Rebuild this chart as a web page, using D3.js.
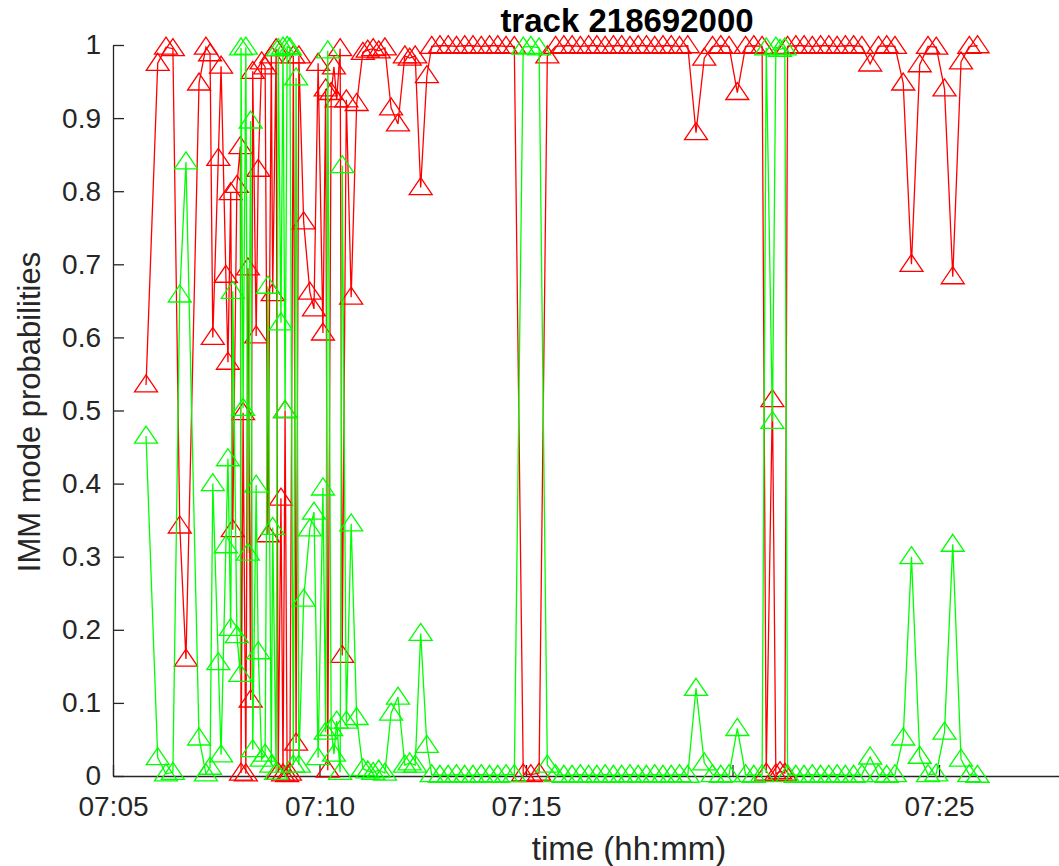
<!DOCTYPE html>
<html>
<head>
<meta charset="utf-8">
<script src="https://cdn.jsdelivr.net/npm/d3@7"></script>
<style>
  body { margin: 0; background: #fff; }
  text { font-family: "Liberation Sans", Arial, Helvetica, sans-serif; }
</style>
</head>
<body>
<div id="chart"></div>
<script>
// sample times of track 218692000 and the two IMM mode probabilities
const times = [
  "07:05:48","07:06:05","07:06:17","07:06:27","07:06:37","07:06:46","07:07:05","07:07:15",
  "07:07:21","07:07:25","07:07:33","07:07:37","07:07:44","07:07:47","07:07:51","07:07:54",
  "07:08:00","07:08:05","07:08:06","07:08:09","07:08:13","07:08:16","07:08:20","07:08:23",
  "07:08:28","07:08:31","07:08:36","07:08:41","07:08:45","07:08:50","07:08:52","07:08:57",
  "07:09:00","07:09:04","07:09:07","07:09:10","07:09:13","07:09:17","07:09:22","07:09:26",
  "07:09:30","07:09:37","07:09:46","07:09:52","07:09:58","07:10:05","07:10:09","07:10:12",
  "07:10:17","07:10:21","07:10:25","07:10:30","07:10:33","07:10:39","07:10:46","07:10:54",
  "07:11:03","07:11:10","07:11:18","07:11:26","07:11:35","07:11:44","07:11:54","07:12:04",
  "07:12:11","07:12:19","07:12:27","07:12:36",
  "07:12:43","07:12:55","07:13:07","07:13:19","07:13:31","07:13:43","07:13:55","07:14:07",
  "07:14:19","07:14:31","07:14:43",
  "07:14:56","07:15:07","07:15:19","07:15:31",
  "07:15:43","07:15:55","07:16:07","07:16:19","07:16:31","07:16:43","07:16:55","07:17:07",
  "07:17:19","07:17:31","07:17:43","07:17:55","07:18:07","07:18:19","07:18:31","07:18:43",
  "07:18:55","07:19:07","07:19:19","07:19:31","07:19:43","07:19:55","07:20:07","07:20:19",
  "07:20:31","07:20:43",
  "07:20:49","07:20:58","07:21:03","07:21:09","07:21:16",
  "07:21:20","07:21:32","07:21:44","07:21:56","07:22:08","07:22:20","07:22:32","07:22:44",
  "07:22:56","07:23:08","07:23:20","07:23:32","07:23:44","07:23:56","07:24:08","07:24:20",
  "07:24:32","07:24:44","07:24:56","07:25:08","07:25:20","07:25:32","07:25:44","07:25:56"
];

const pRed = [
  0.535,0.975,0.997,0.995,0.342,0.160,0.948,0.997,
  0.988,0.600,0.845,0.971,0.685,0.566,0.798,0.337,
  0.808,0.861,0.004,0.497,0.003,0.695,0.104,0.964,
  0.602,0.830,0.977,0.970,0.330,0.985,0.660,0.995,
  0.005,0.380,0.003,0.500,0.002,0.004,0.985,0.045,
  0.985,0.758,0.662,0.639,0.975,0.606,0.940,0.008,
  0.935,0.970,0.925,0.995,0.165,0.925,0.655,0.920,
  0.990,0.993,0.995,0.992,0.996,0.914,0.892,0.985,
  0.982,0.985,0.805,0.958,
  0.998,0.999,0.999,0.998,0.999,0.999,0.998,0.999,
  0.999,0.998,0.998,
  0.003,0.002,0.004,0.985,
  0.998,0.999,0.999,0.998,0.999,0.999,0.998,0.999,
  0.999,0.998,0.999,0.999,0.998,0.999,0.999,0.998,
  0.999,0.880,0.982,0.998,0.999,0.998,0.935,0.998,
  0.999,0.998,
  0.004,0.515,0.003,0.006,0.004,
  0.998,0.999,0.999,0.998,0.999,0.999,0.998,0.999,
  0.999,0.998,0.974,0.998,0.999,0.998,0.948,0.700,
  0.973,0.998,0.997,0.940,0.683,0.977,0.998,0.999
];

const pGreen = [
  0.465,0.025,0.003,0.005,0.658,0.840,0.052,0.003,
  0.012,0.400,0.155,0.029,0.315,0.434,0.202,0.663,
  0.192,0.139,0.996,0.503,0.997,0.305,0.896,0.036,
  0.398,0.170,0.023,0.030,0.670,0.015,0.340,0.005,
  0.995,0.620,0.997,0.500,0.998,0.996,0.015,0.955,
  0.015,0.242,0.338,0.361,0.025,0.394,0.060,0.992,
  0.065,0.030,0.075,0.005,0.835,0.075,0.345,0.080,
  0.010,0.007,0.005,0.008,0.004,0.086,0.108,0.015,
  0.018,0.015,0.195,0.042,
  0.002,0.001,0.001,0.002,0.001,0.001,0.002,0.001,
  0.001,0.002,0.002,
  0.997,0.998,0.996,0.015,
  0.002,0.001,0.001,0.002,0.001,0.001,0.002,0.001,
  0.001,0.002,0.001,0.001,0.002,0.001,0.001,0.002,
  0.001,0.120,0.018,0.002,0.001,0.002,0.065,0.002,
  0.001,0.002,
  0.996,0.485,0.997,0.994,0.996,
  0.002,0.001,0.001,0.002,0.001,0.001,0.002,0.001,
  0.001,0.002,0.026,0.002,0.001,0.002,0.052,0.300,
  0.027,0.002,0.003,0.060,0.317,0.023,0.002,0.001
];

const yTicks = [0, 0.1, 0.2, 0.3, 0.4, 0.5, 0.6, 0.7, 0.8, 0.9, 1];
const xDomain = ["07:05:00", "07:28:00"];

const width = 1059, height = 866;
const margin = { top: 45, left: 113, bottom: 90 };
const axisColor = "#262626";

const parseTime = d3.timeParse("%H:%M:%S");
const dates = times.map(parseTime);

const x = d3.scaleTime()
  .domain(xDomain.map(parseTime))
  .range([margin.left, margin.left + 23 * 41.3]);

const y = d3.scaleLinear()
  .domain([0, 1])
  .range([height - margin.bottom, margin.top]);

const svg = d3.select("#chart").append("svg")
  .attr("width", width)
  .attr("height", height);

// axes (MATLAB style: ticks pointing inward, no box)
const xAxis = d3.axisBottom(x)
  .ticks(d3.timeMinute.every(5))
  .tickFormat(d3.timeFormat("%H:%M"))
  .tickSizeInner(-11)
  .tickSizeOuter(0)
  .tickPadding(20);

const yAxis = d3.axisLeft(y)
  .tickValues(yTicks)
  .tickFormat(d => String(+d.toFixed(1)))
  .tickSizeInner(-11)
  .tickSizeOuter(0)
  .tickPadding(12);

const gx = svg.append("g")
  .attr("transform", "translate(0," + y(0) + ")")
  .call(xAxis);

const gy = svg.append("g")
  .attr("transform", "translate(" + margin.left + ",0)")
  .call(yAxis);

[gx, gy].forEach(g => {
  g.select(".domain").attr("stroke", axisColor).attr("stroke-width", 1.3);
  g.selectAll(".tick line").attr("stroke", axisColor).attr("stroke-width", 1.3);
  g.selectAll(".tick text")
    .attr("fill", axisColor)
    .style("font-size", "28px")
    .style("font-family", "'Liberation Sans', Arial, sans-serif");
});

// series
const series = [
  { name: "red", color: "#ff0000", values: pRed },
  { name: "green", color: "#00ff00", values: pGreen }
];

const line = d3.line()
  .x((d, i) => x(dates[i]))
  .y(d => y(d));

const marker = "M0,-10L11.5,7L-11.5,7Z";

series.forEach(s => {
  const g = svg.append("g").attr("class", "series-" + s.name);
  g.append("path")
    .attr("d", line(s.values))
    .attr("fill", "none")
    .attr("stroke", s.color)
    .attr("stroke-width", 1.3);
  g.selectAll(".marker")
    .data(s.values)
    .enter()
    .append("path")
    .attr("class", "marker")
    .attr("transform", (d, i) => "translate(" + [x(dates[i]), y(d)] + ")")
    .attr("d", marker)
    .attr("fill", "none")
    .attr("stroke", s.color)
    .attr("stroke-width", 1.3);
});

// title and labels
svg.append("text")
  .attr("x", 627)
  .attr("y", 32)
  .attr("text-anchor", "middle")
  .style("font-size", "33px")
  .style("font-weight", "bold")
  .attr("fill", "#000")
  .text("track 218692000");

svg.append("text")
  .attr("x", 629)
  .attr("y", 860)
  .attr("text-anchor", "middle")
  .style("font-size", "33px")
  .attr("fill", axisColor)
  .text("time (hh:mm)");

svg.append("text")
  .attr("transform", "translate(40," + 412 + ") rotate(-90)")
  .attr("text-anchor", "middle")
  .style("font-size", "31px")
  .attr("fill", axisColor)
  .text("IMM mode probabilities");
</script>
</body>
</html>
